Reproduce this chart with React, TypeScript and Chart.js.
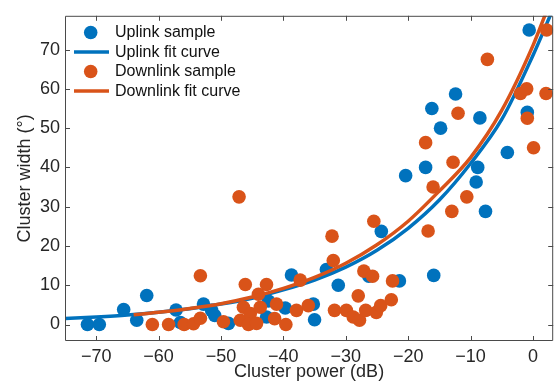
import React, { useEffect, useRef } from "react";
import { Chart, registerables } from "chart.js";

Chart.register(...registerables);

const seriesNames = ["Uplink sample", "Uplink fit curve", "Downlink sample", "Downlink fit curve"];
const xTickValues = [-70, -60, -50, -40, -30, -20, -10, 0];
const yTickValues = [0, 10, 20, 30, 40, 50, 60, 70];
const xTitle = "Cluster power (dB)";
const yTitle = "Cluster width (°)";

const uplinkX = [-71.4, -69.5, -65.6, -63.5, -61.9, -57.2, -56.5, -52.8, -51.5, -51.0, -48.8, -42.4, -42.7, -39.7, -38.7, -35.2, -35.0, -33.1, -31.2, -26.3, -24.3, -21.4, -20.4, -17.2, -16.2, -15.9, -14.8, -12.4, -8.85, -9.1, -8.5, -7.6, -4.1, -0.9, -0.6];
const uplinkY = [0, 0, 3.8, 1.1, 7.4, 3.7, 0.5, 5.2, 3.6, 2.3, 0.3, 6.0, 1.9, 4.2, 12.6, 5.2, 1.2, 14.0, 10.0, 12.3, 23.7, 11.1, 37.9, 40.0, 55.0, 12.5, 50.0, 58.7, 40.0, 36.3, 52.6, 28.8, 43.8, 54.0, 75.0];

const downlinkX = [-61.0, -58.4, -55.9, -54.4, -53.3, -53.3, -49.6, -47.1, -46.1, -42.7, -44.0, -46.4, -46.9, -45.3, -43.7, -45.6, -44.3, -41.1, -41.4, -39.6, -37.9, -36.0, -37.3, -32.2, -32.0, -31.8, -29.9, -28.8, -27.8, -28.0, -26.8, -25.1, -24.4, -22.7, -27.1, -25.7, -25.5, -22.5, -16.8, -16.0, -13.0, -10.6, -12.8, -12.0, -17.2, -7.3, -2.0, -1.0, 2.1, -0.9, 0.1, 2.2];
const downlinkY = [0, 0, 0, 0.2, 1.6, 12.4, 0.7, 32.5, 10.2, 10.2, 7.7, 4.4, 1.1, 2.8, 4.4, 0, 0.3, 5.2, 1.5, 0, 3.6, 4.8, 11.3, 22.5, 16.3, 3.6, 3.6, 1.9, 1.1, 7.3, 3.6, 3.1, 4.8, 6.3, 13.6, 12.3, 26.3, 11.1, 23.8, 35.0, 28.8, 32.5, 41.3, 53.8, 46.3, 67.5, 58.8, 60.0, 58.8, 52.5, 45.0, 75.0];

const uplinkFitX = [-75, -70, -65, -60, -55, -50, -45, -40, -35, -30, -25, -20, -15, -10, -5, 0, 3];
const uplinkFitY = [1.5, 1.9, 2.4, 3.1, 4.0, 5.2, 6.7, 8.8, 11.3, 14.6, 18.9, 24.5, 31.7, 41.0, 52.2, 68.5, 79.5];

const downlinkFitX = [-64, -60, -55, -50, -45, -40, -35, -30, -25, -20, -15, -10, -5, 0, 2];
const downlinkFitY = [2.5, 3.1, 4.1, 5.3, 7.0, 9.2, 12.0, 15.6, 20.3, 26.3, 34.0, 42.5, 54.5, 71.0, 79.0];

const BLUE = "#0072BD";
const ORANGE = "#D95319";
const FONT = '"Liberation Sans", Arial, Helvetica, sans-serif';
const TEXT = "#262626";

const toPoints = (xs: number[], ys: number[]) => xs.map((x, i) => ({ x, y: ys[i] }));
const fmt = (v: number | string) => String(v).replace("-", "\u2212");

const framePlugin = {
  id: "frameAndLegend",
  afterDatasetsDraw(chart: any) {
    const { ctx, chartArea, scales } = chart;
    const { left, right, top, bottom } = chartArea;
    ctx.save();
    ctx.strokeStyle = "#4a4a4a";
    ctx.lineWidth = 1;
    ctx.beginPath();
    ctx.rect(left + 0.5, top + 0.5, right - left - 1, bottom - top - 1);
    ctx.stroke();
    const tl = 5;
    ctx.beginPath();
    for (const v of xTickValues) {
      const px = Math.round(scales.x.getPixelForValue(v)) + 0.5;
      ctx.moveTo(px, bottom);
      ctx.lineTo(px, bottom - tl);
      ctx.moveTo(px, top);
      ctx.lineTo(px, top + tl);
    }
    for (const v of yTickValues) {
      const py = Math.round(scales.y.getPixelForValue(v)) + 0.5;
      ctx.moveTo(left, py);
      ctx.lineTo(left + tl, py);
      ctx.moveTo(right, py);
      ctx.lineTo(right - tl, py);
    }
    ctx.stroke();

    // legend
    const rows = [
      { kind: "dot", color: BLUE, label: seriesNames[0] },
      { kind: "line", color: BLUE, label: seriesNames[1] },
      { kind: "dot", color: ORANGE, label: seriesNames[2] },
      { kind: "line", color: ORANGE, label: seriesNames[3] },
    ];
    const rowY = [32.5, 52, 71.5, 91];
    ctx.font = "16px " + FONT;
    ctx.textBaseline = "middle";
    ctx.textAlign = "left";
    rows.forEach((r, i) => {
      const y = rowY[i];
      if (r.kind === "dot") {
        ctx.fillStyle = r.color;
        ctx.beginPath();
        ctx.arc(90.7, y, 6.8, 0, Math.PI * 2);
        ctx.fill();
      } else {
        ctx.strokeStyle = r.color;
        ctx.lineWidth = 3.5;
        ctx.beginPath();
        ctx.moveTo(74, y);
        ctx.lineTo(109, y);
        ctx.stroke();
      }
      ctx.fillStyle = "#111";
      ctx.fillText(r.label, 115, y + 0.5);
    });
    ctx.restore();
  },
};

export default function App() {
  const ref = useRef<HTMLCanvasElement | null>(null);
  useEffect(() => {
    if (!ref.current) return;
    const chart = new Chart(ref.current, {
      type: "scatter",
      data: {
        datasets: [
          {
            label: seriesNames[0],
            data: toPoints(uplinkX, uplinkY),
            backgroundColor: BLUE,
            borderWidth: 0,
            pointRadius: 6.8,
            order: 4,
          },
          {
            label: seriesNames[1],
            data: toPoints(uplinkFitX, uplinkFitY),
            showLine: true,
            borderColor: BLUE,
            borderWidth: 3.5,
            pointRadius: 0,
            cubicInterpolationMode: "monotone",
            order: 3,
          },
          {
            label: seriesNames[2],
            data: toPoints(downlinkX, downlinkY),
            backgroundColor: ORANGE,
            borderWidth: 0,
            pointRadius: 6.8,
            order: 2,
          },
          {
            label: seriesNames[3],
            data: toPoints(downlinkFitX, downlinkFitY),
            showLine: true,
            borderColor: ORANGE,
            borderWidth: 3.5,
            pointRadius: 0,
            cubicInterpolationMode: "monotone",
            order: 1,
          },
        ] as any,
      },
      options: {
        animation: false,
        responsive: false,
        layout: { padding: { top: 10, right: 6, left: 0, bottom: 0 } },
        plugins: { legend: { display: false }, tooltip: { enabled: false } },
        scales: {
          x: {
            type: "linear",
            min: -75,
            max: 3.25,
            afterBuildTicks: (s: any) => {
              s.ticks = xTickValues.map((v) => ({ value: v }));
            },
            afterFit: (s: any) => {
              s.height = 42;
            },
            grid: { display: false, drawTicks: false },
            border: { display: false },
            ticks: {
              padding: 5,
              color: TEXT,
              font: { family: FONT, size: 18 },
              callback: (v: any) => fmt(v),
            },
            title: {
              display: true,
              text: xTitle,
              color: TEXT,
              font: { family: FONT, size: 18 },
              padding: { top: 0, bottom: 0 },
            },
          },
          y: {
            type: "linear",
            min: -4.2,
            max: 78.6,
            afterBuildTicks: (s: any) => {
              s.ticks = yTickValues.map((v) => ({ value: v }));
            },
            afterFit: (s: any) => {
              s.width = 65;
            },
            grid: { display: false, drawTicks: false },
            border: { display: false },
            ticks: {
              padding: 5,
              color: TEXT,
              font: { family: FONT, size: 18 },
              callback: (v: any) => fmt(v),
            },
            title: {
              display: true,
              text: yTitle,
              color: TEXT,
              font: { family: FONT, size: 18 },
              padding: { top: 14, bottom: 0 },
            },
          },
        },
      },
      plugins: [framePlugin],
    } as any);
    return () => chart.destroy();
  }, []);
  return (
    <div style={{ position: "absolute", left: 0, top: 0, width: 560, height: 383, background: "#fff" }}>
      <canvas ref={ref} width={560} height={383} style={{ display: "block" }} />
    </div>
  );
}
